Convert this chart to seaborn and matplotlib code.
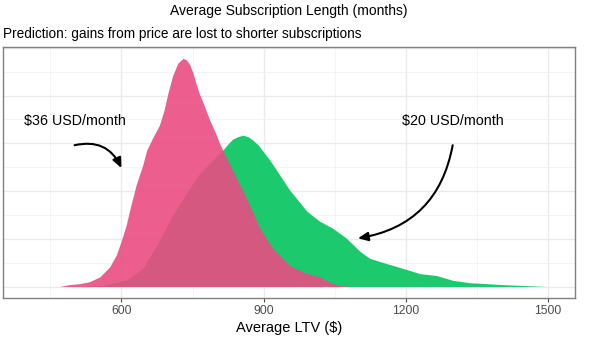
import numpy as np
import pandas as pd
import matplotlib
matplotlib.use("Agg")
import matplotlib.pyplot as plt
import seaborn as sns

# ---- data ----
pink_ltv = [469, 490, 511, 532, 554, 575, 589, 599, 610, 620, 631, 645, 653, 665, 680, 690,
            698, 708, 719, 730, 737, 744, 751, 758, 765, 775, 786, 797, 807, 835, 864, 892,
            919, 955, 991, 1018, 1039, 1061, 1082]
pink_density = [0.0, 0.04, 0.06, 0.10, 0.20, 0.41, 0.66, 0.94, 1.29, 1.71, 2.13, 2.55, 2.85,
                3.10, 3.38, 3.70, 4.05, 4.42, 4.68, 4.78, 4.75, 4.65, 4.47, 4.23, 4.02, 3.78,
                3.49, 3.25, 3.00, 2.42, 1.85, 1.22, 0.80, 0.44, 0.27, 0.21, 0.09, 0.02, 0.0]
green_ltv = [511, 560, 610, 645, 674, 708, 744, 765, 793, 814, 825, 835, 846, 856, 867, 877,
             888, 899, 913, 927, 941, 955, 969, 991, 1018, 1046, 1075, 1103, 1124, 1160, 1194,
             1230, 1265, 1299, 1335, 1405, 1498]
green_density = [0.0, 0.02, 0.13, 0.38, 0.85, 1.49, 2.06, 2.37, 2.65, 2.86, 2.99, 3.09, 3.14,
                 3.17, 3.14, 3.07, 2.97, 2.83, 2.65, 2.44, 2.23, 2.02, 1.85, 1.58, 1.37, 1.22,
                 1.01, 0.74, 0.59, 0.48, 0.38, 0.27, 0.23, 0.13, 0.08, 0.04, 0.0]
x_ticks = [600, 900, 1200, 1500]

title = "Average Subscription Length (months)"
subtitle = "Prediction: gains from price are lost to shorter subscriptions"
xlabel = "Average LTV (\\$)"
label_36 = "\\$36 USD/month"
label_20 = "\\$20 USD/month"

SCALE = 1e-3
df = pd.concat([
    pd.DataFrame({"ltv": green_ltv, "density": np.array(green_density) * SCALE, "plan": "$20"}),
    pd.DataFrame({"ltv": pink_ltv, "density": np.array(pink_density) * SCALE, "plan": "$36"}),
])

GREEN = "#1DC96D"
PINK = "#E94C82"

sns.set_theme(style="white")
plt.rcParams["font.family"] = ["Liberation Sans", "DejaVu Sans"]

fig = plt.figure(figsize=(6.13, 3.53), dpi=100)
ax = fig.add_axes([0.0049, 0.156, 0.933, 0.711])

palette = {"$20": GREEN, "$36": PINK}
sns.lineplot(data=df, x="ltv", y="density", hue="plan", palette=palette,
             linewidth=0, legend=False, ax=ax, sort=False)
for plan, alpha in [("$20", 1.0), ("$36", 0.9)]:
    d = df[df["plan"] == plan]
    ax.fill_between(d["ltv"], 0, d["density"], color=palette[plan], alpha=alpha,
                    linewidth=0, zorder=2)

ymax = max(pink_density) * SCALE
ax.set_xlim(350, 1557)
ax.set_ylim(-0.05 * ymax, 1.05 * ymax)

ax.set_xticks(x_ticks)
ax.set_xticks([450, 750, 1050, 1350], minor=True)
ax.set_yticks(np.arange(0, 5.01, 1) * SCALE)
ax.set_yticks(np.arange(0.5, 5.0, 1) * SCALE, minor=True)
ax.grid(True, which="major", color="#EBEBEB", linewidth=1.0, zorder=0)
ax.grid(True, which="minor", color="#F2F2F2", linewidth=0.6, zorder=0)
ax.set_axisbelow(True)
ax.tick_params(axis="y", left=False, labelleft=False, which="both")
ax.tick_params(axis="x", which="major", bottom=True, length=3, width=0.8, color="#4D4D4D",
               labelsize=8.8, labelcolor="#4D4D4D", pad=2)
ax.tick_params(axis="x", which="minor", bottom=False)
ax.set_xticklabels([str(t) for t in x_ticks])
for s in ax.spines.values():
    s.set_color("#808080")
    s.set_linewidth(1.0)

ax.set_xlabel(xlabel, fontsize=10.5, color="black", labelpad=3)
ax.set_ylabel("")

fig.text(0.471, 0.970, title, ha="center", va="center", fontsize=10, color="black")
fig.text(0.005, 0.903, subtitle, ha="left", va="center", fontsize=9.8, color="black")

ax.text(501, 3.47 * SCALE, label_36, ha="center", va="center", fontsize=10.3, color="black")
ax.text(1299, 3.47 * SCALE, label_20, ha="center", va="center", fontsize=10.3, color="black")

ax.annotate("", xy=(600, 2.48 * SCALE), xytext=(501, 2.96 * SCALE),
            arrowprops=dict(arrowstyle="-|>,head_length=0.5,head_width=0.22", color="black",
                            linewidth=1.5, connectionstyle="arc3,rad=-0.4",
                            shrinkA=0, shrinkB=0), zorder=5)
ax.annotate("", xy=(1099, 1.01 * SCALE), xytext=(1299, 2.96 * SCALE),
            arrowprops=dict(arrowstyle="-|>,head_length=0.5,head_width=0.22", color="black",
                            linewidth=1.5, connectionstyle="arc3,rad=-0.35",
                            shrinkA=0, shrinkB=0), zorder=5)

fig.savefig("out.png", dpi=100)
